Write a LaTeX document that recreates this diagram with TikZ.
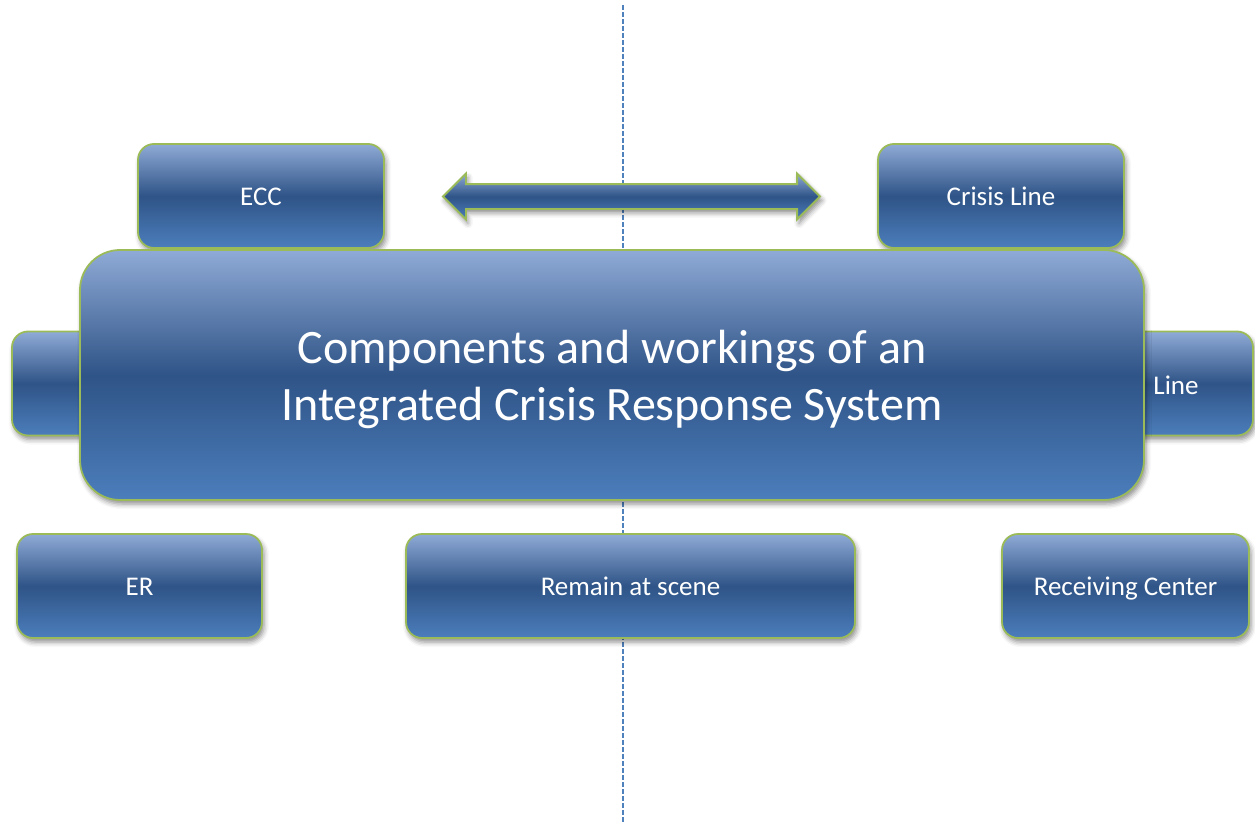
\documentclass[tikz,border=0pt]{standalone}
\usepackage{fontspec}
\setmainfont{Carlito}
\usetikzlibrary{shapes.arrows,shadows.blur}
\definecolor{gtop}{RGB}{143,170,214}
\definecolor{gmid}{RGB}{47,84,135}
\definecolor{gbot}{RGB}{76,126,188}
\definecolor{edgegreen}{RGB}{155,187,89}
\definecolor{dline}{RGB}{79,129,189}
\tikzset{
  grad/.style={top color=gtop, bottom color=gbot, middle color=gmid},
  softshadow/.style={blur shadow={shadow xshift=2pt, shadow yshift=-4pt, shadow blur radius=5pt, shadow opacity=45}},
  box/.style={draw=edgegreen, line width=1.8pt, rounded corners=16pt, grad, text=white,
    font=\fontsize{27}{30}\selectfont, text height=22pt, text depth=3pt,
    minimum height=104pt, inner sep=0pt, outer sep=0pt, softshadow},
  bigbox/.style={draw=edgegreen, line width=1.8pt, rounded corners=40pt, grad,
    minimum width=1064pt, minimum height=250pt, inner sep=0pt, outer sep=0pt, softshadow},
  titletext/.style={text=white, font=\fontsize{48}{57}\selectfont, align=center, inner sep=0pt},
  axis/.style={draw=dline, line width=1.4pt, dash pattern=on 5pt off 2pt},
  dblarrow/.style={double arrow, draw=edgegreen, line width=1.8pt, grad, minimum height=377pt,
    inner xsep=0pt, inner ysep=11.5pt, double arrow head extend=10.5pt, double arrow tip angle=90,
    outer sep=0pt, softshadow},
  lbl/.style={text=white, font=\fontsize{27}{30}\selectfont, inner sep=0pt}
}
\begin{document}
\begin{tikzpicture}[x=1pt,y=-1pt]
\useasboundingbox (0,0) rectangle (1255,824);
% dashed axis
\coordinate (axtop) at (623,5);
\coordinate (axbot) at (623,822);
\draw[axis] (axtop) -- (axbot);
% side boxes partly hidden
\node[box, minimum width=246pt] (leftbox) at (135,383.5) {};
\node[box, minimum width=246pt] (rightbox) at (1130,383.5) {};
\node[lbl] (rightlbl) at (1176,385) {Line};
% top boxes
\node[box, minimum width=246pt] (ecc) at (261,196) {ECC};
\node[box, minimum width=246pt] (crisis) at (1001,196) {Crisis Line};
% double arrow
\node[dblarrow] (arrow) at (631.5,196.5) {};
% main box
\node[bigbox] (main) at (612,375) {};
\node[titletext] (title) at ([yshift=-4pt]main.center) {Components and workings of an\\Integrated Crisis Response System};
% bottom boxes
\node[box, minimum width=245pt] (er) at (139.5,586) {ER};
\node[box, minimum width=449pt] (remain) at (630.5,586) {Remain at scene};
\node[box, minimum width=247pt] (receiving) at (1125.5,586) {Receiving Center};
\end{tikzpicture}
\end{document}
